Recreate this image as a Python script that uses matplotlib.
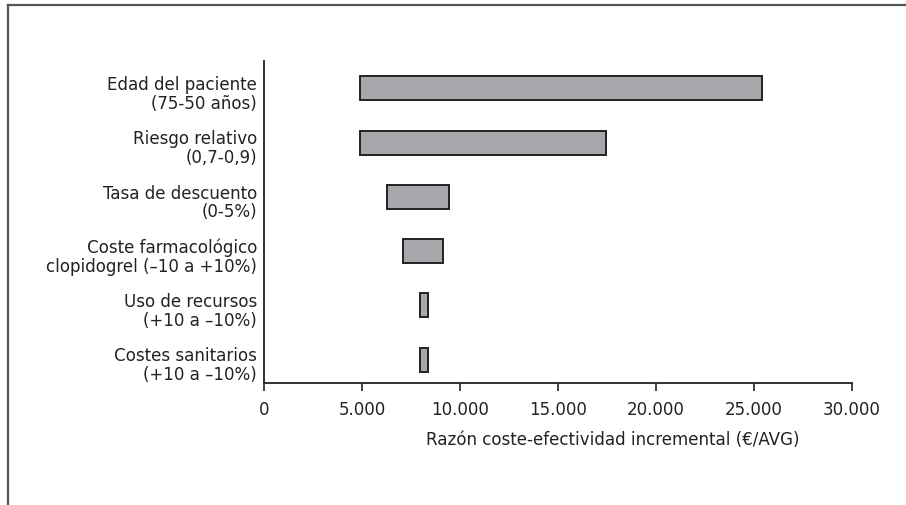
import matplotlib
matplotlib.use('Agg')
import numpy as np
import matplotlib.pyplot as plt
from matplotlib.lines import Line2D
from matplotlib.ticker import FuncFormatter, MultipleLocator
from matplotlib.transforms import ScaledTranslation

plt.rcParams['font.family'] = ['Liberation Sans Narrow', 'DejaVu Sans']
plt.rcParams['font.stretch'] = 'condensed'

# tornado data: lower and upper ICER per parameter
labels = ['Edad del paciente\n(75-50 años)',
          'Riesgo relativo\n(0,7-0,9)',
          'Tasa de descuento\n(0-5%)',
          'Coste farmacológico\nclopidogrel (\u201310 a +10%)',
          'Uso de recursos\n(+10 a \u201310%)',
          'Costes sanitarios\n(+10 a \u201310%)']
low = [4900, 4900, 6300, 7100, 7950, 7950]
high = [25400, 17450, 9450, 9150, 8350, 8350]

fs = 13.3

fig = plt.figure(figsize=(9.06, 5.06), dpi=100)
ax = fig.add_axes([264/906, 1 - 384.3/506, 588/906, (384.3 - 62)/506])

ypos = np.arange(len(labels))
widths = np.array(high) - np.array(low)
ax.barh(ypos, widths, left=low, height=0.44, color='#a7a8ab',
        edgecolor='#222222', linewidth=1.4)

ax.set_xlim(0, 30000)
ax.set_ylim(5 + 23.6/54.3, -27.3/54.3)
ax.set_yticks([])
# category labels: right-aligned left of the axis, a bit below the bar centres
trans = ax.get_yaxis_transform() + ScaledTranslation(-7/100, -5/100, fig.dpi_scale_trans)
for y, lab in zip(ypos, labels):
    ax.text(0, y, lab, transform=trans, ha='right', va='center', fontsize=fs,
            linespacing=1.05, color='#222222')

ax.xaxis.set_major_locator(MultipleLocator(5000))
ax.xaxis.set_major_formatter(FuncFormatter(lambda v, p: '{:,.0f}'.format(v).replace(',', '.')))
ax.tick_params(axis='x', labelsize=fs, length=6, width=1.2, pad=6, colors='#222222')
for s in ['top', 'right']:
    ax.spines[s].set_visible(False)
for s in ['left', 'bottom']:
    ax.spines[s].set_linewidth(1.3)
    ax.spines[s].set_color('#222222')

ax.set_xlabel('Razón coste-efectividad incremental (\u20ac/AVG)', fontsize=fs, color='#222222')
ax.xaxis.set_label_coords((613 - 264)/588, (384.3 - 440)/322.3)
ax.xaxis.label.set_va('center')

# outer frame (top and left only)
fig.add_artist(Line2D([8/906, 1], [1 - 6/506, 1 - 6/506], color='#555555', lw=1.6))
fig.add_artist(Line2D([8/906, 8/906], [0, 1 - 6/506], color='#555555', lw=1.6))

plt.savefig('out.png', dpi=100)
